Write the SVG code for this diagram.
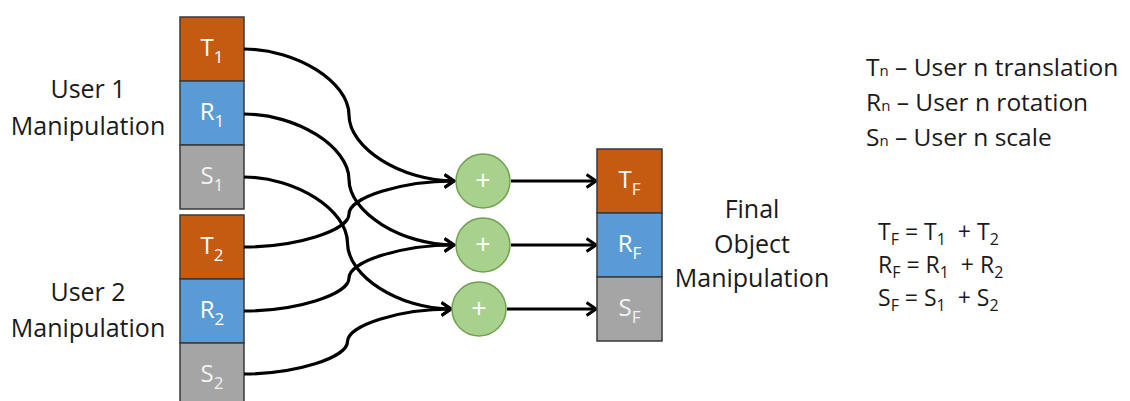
<svg xmlns="http://www.w3.org/2000/svg" width="1130" height="401" viewBox="0 0 1130 401">
<style>
.t{fill:#C55A11;stroke:#3a3a3a;stroke-width:1.5}
.r{fill:#5B9BD5;stroke:#3a3a3a;stroke-width:1.5}
.s{fill:#A5A5A5;stroke:#3a3a3a;stroke-width:1.5}
.bl{font-family:"Open Sans","Liberation Sans",sans-serif;font-size:24px;fill:#fff;text-anchor:middle}
.bl.g{fill:#f2f2f2}
.sub{font-size:17px}
.lbl{font-family:"Open Sans","Liberation Sans",sans-serif;font-size:25px;fill:#1a1a1a;text-anchor:middle}
.leg{font-family:"Open Sans","Liberation Sans",sans-serif;font-size:24.5px;fill:#1a1a1a}
.eq{font-family:"Open Sans","Liberation Sans",sans-serif;font-size:23px;fill:#1a1a1a;white-space:pre}
.es{font-size:16px}
.c{fill:#A9D18E;stroke:#70A050;stroke-width:1.5}
.plus{font-family:"Open Sans","Liberation Sans",sans-serif;font-size:27px;fill:#fff;text-anchor:middle}
.con{fill:none;stroke:#000;stroke-width:3.2;marker-end:url(#arr)}
</style>
<defs>
<marker id="arr" viewBox="0 0 12 16" refX="10.5" refY="8" markerWidth="12" markerHeight="16" orient="auto" markerUnits="userSpaceOnUse">
<path d="M1,1.5 L10.5,8 L1,14.5" fill="none" stroke="#000" stroke-width="3.2"/>
</marker>
</defs>

<g id="user1-label">
<text class="lbl" x="88" y="98">User 1</text>
<text class="lbl" x="88" y="135">Manipulation</text>
</g>
<g id="user2-label">
<text class="lbl" x="88" y="301">User 2</text>
<text class="lbl" x="88" y="337">Manipulation</text>
</g>

<g id="T1"><rect class="t" x="180" y="17" width="64" height="64"/><text class="bl" x="212" y="56">T<tspan class="sub" dy="7">1</tspan></text></g>
<g id="R1"><rect class="r" x="180" y="81" width="64" height="64"/><text class="bl" x="212" y="120">R<tspan class="sub" dy="7">1</tspan></text></g>
<g id="S1"><rect class="s" x="180" y="145" width="64" height="64"/><text class="bl g" x="212" y="184">S<tspan class="sub" dy="7">1</tspan></text></g>
<g id="T2"><rect class="t" x="180" y="215" width="64" height="64"/><text class="bl" x="212" y="254">T<tspan class="sub" dy="7">2</tspan></text></g>
<g id="R2"><rect class="r" x="180" y="279" width="64" height="64"/><text class="bl" x="212" y="318">R<tspan class="sub" dy="7">2</tspan></text></g>
<g id="S2"><rect class="s" x="180" y="343" width="64" height="64"/><text class="bl g" x="212" y="382">S<tspan class="sub" dy="7">2</tspan></text></g>

<g id="connectors">
<path class="con" d="M244,49 C296.5,49 349,82 349,115 C349,148 401.5,181 454,181"/>
<path class="con" d="M244,114 C296.5,114 349,146.75 349,179.5 C349,212.25 401.5,245 454,245"/>
<path class="con" d="M244,177 C295.75,177 347.5,210 347.5,243 C347.5,276 399.25,309 451,309"/>
<path class="con" d="M244,247 C296.5,247 349,230.5 349,214 C349,197.5 401.5,181 454,181"/>
<path class="con" d="M244,311 C296.5,311 349,294.5 349,278 C349,261.5 401.5,245 454,245"/>
<path class="con" d="M244,374 C295.75,374 347.5,357.75 347.5,341.5 C347.5,325.25 399.25,309 451,309"/>
<path class="con" d="M511,181 L596,181"/>
<path class="con" d="M511,245 L596,245"/>
<path class="con" d="M507,309 L596,309"/>
</g>

<g id="sum1"><circle class="c" cx="483" cy="181" r="27"/><text class="plus" x="483" y="190">+</text></g>
<g id="sum2"><circle class="c" cx="483" cy="245" r="27"/><text class="plus" x="483" y="254">+</text></g>
<g id="sum3"><circle class="c" cx="479" cy="309" r="27"/><text class="plus" x="479" y="318">+</text></g>

<g id="TF"><rect class="t" x="597" y="149" width="65" height="64"/><text class="bl" x="629.5" y="188">T<tspan class="sub" dy="7">F</tspan></text></g>
<g id="RF"><rect class="r" x="597" y="213" width="65" height="64"/><text class="bl" x="629.5" y="252">R<tspan class="sub" dy="7">F</tspan></text></g>
<g id="SF"><rect class="s" x="597" y="277" width="65" height="64"/><text class="bl g" x="629.5" y="316">S<tspan class="sub" dy="7">F</tspan></text></g>

<g id="final-label">
<text class="lbl" x="752" y="218">Final</text>
<text class="lbl" x="752" y="253">Object</text>
<text class="lbl" x="752" y="287">Manipulation</text>
</g>

<g id="legend">
<text class="leg" x="866" y="76">T<tspan font-size="15">n</tspan> – User n translation</text>
<text class="leg" x="866" y="111">R<tspan font-size="15">n</tspan> – User n rotation</text>
<text class="leg" x="866" y="146">S<tspan font-size="15">n</tspan> – User n scale</text>
</g>

<g id="equations">
<text class="eq" x="878" y="240" xml:space="preserve">T<tspan class="es" dy="5">F</tspan><tspan dy="-5"> = T</tspan><tspan class="es" dy="5">1</tspan><tspan dy="-5">  + T</tspan><tspan class="es" dy="5">2</tspan></text>
<text class="eq" x="878" y="273" xml:space="preserve">R<tspan class="es" dy="5">F</tspan><tspan dy="-5"> = R</tspan><tspan class="es" dy="5">1</tspan><tspan dy="-5">  + R</tspan><tspan class="es" dy="5">2</tspan></text>
<text class="eq" x="878" y="306" xml:space="preserve">S<tspan class="es" dy="5">F</tspan><tspan dy="-5"> = S</tspan><tspan class="es" dy="5">1</tspan><tspan dy="-5">  + S</tspan><tspan class="es" dy="5">2</tspan></text>
</g>
</svg>
